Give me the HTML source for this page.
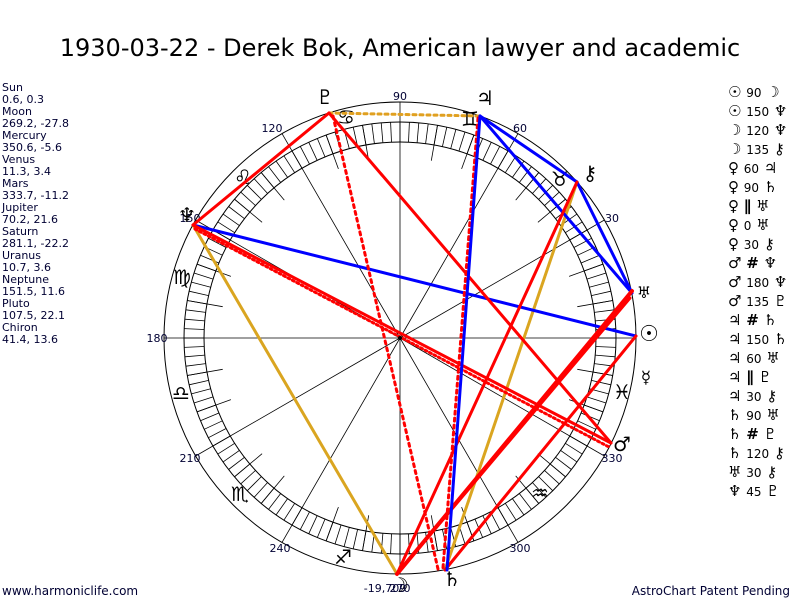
<!DOCTYPE html>
<html><head><meta charset="utf-8"><style>
body{margin:0;background:#fff;width:800px;height:600px;overflow:hidden;font-family:"Liberation Sans","DejaVu Sans",sans-serif}
svg{position:absolute;left:0;top:0}
</style></head><body>
<svg width="800" height="600" viewBox="0 0 800 600" xmlns="http://www.w3.org/2000/svg" font-family="'DejaVu Sans','Liberation Sans',sans-serif">
<text x="400" y="56" font-size="24" text-anchor="middle" fill="#000">1930-03-22 - Derek Bok, American lawyer and academic</text>
<g font-size="11" fill="#000033">
<text x="2" y="91">Sun</text><text x="2" y="103">0.6, 0.3</text>
<text x="2" y="115">Moon</text><text x="2" y="127">269.2, -27.8</text>
<text x="2" y="139">Mercury</text><text x="2" y="151">350.6, -5.6</text>
<text x="2" y="163">Venus</text><text x="2" y="175">11.3, 3.4</text>
<text x="2" y="187">Mars</text><text x="2" y="199">333.7, -11.2</text>
<text x="2" y="211">Jupiter</text><text x="2" y="223">70.2, 21.6</text>
<text x="2" y="235">Saturn</text><text x="2" y="247">281.1, -22.2</text>
<text x="2" y="259">Uranus</text><text x="2" y="271">10.7, 3.6</text>
<text x="2" y="283">Neptune</text><text x="2" y="295">151.5, 11.6</text>
<text x="2" y="307">Pluto</text><text x="2" y="319">107.5, 22.1</text>
<text x="2" y="331">Chiron</text><text x="2" y="343">41.4, 13.6</text>
</g>
<text x="2" y="595" font-size="12" fill="#000033">www.harmoniclife.com</text>
<text x="790" y="595" font-size="12" fill="#000033" text-anchor="end">AstroChart Patent Pending</text>

<g id="wheel" stroke="#000" fill="none" stroke-width="1">
<circle cx="400" cy="338" r="236"/>
<circle cx="400" cy="338" r="216"/>
<circle cx="400" cy="338" r="196"/>
</g>
<g id="ticks" stroke="#000" stroke-width="0.8"></g>

<g font-size="11" fill="#000033" text-anchor="middle">
<text x="400" y="100">90</text><text x="272" y="132">120</text><text x="190" y="222">150</text>
<text x="157" y="342">180</text><text x="190" y="462">210</text><text x="280" y="552">240</text>
<text x="400" y="592">270</text><text x="520" y="552">300</text><text x="612" y="462">330</text>
<text x="612" y="222">30</text><text x="520" y="132">60</text>
</g>
<g font-size="20" fill="#000" text-anchor="middle">
<text x="470" y="126">♊</text><text x="346" y="124">♋</text><text x="243" y="184">♌</text>
<text x="182" y="284">♍</text><text x="181" y="400">♎</text><text x="240" y="501">♏</text>
<text x="343" y="564">♐</text><text x="540" y="500">♒</text><text x="622" y="399">♓</text>
<text x="560" y="186">♉</text>
</g>

<g stroke-width="3" fill="none" stroke-linecap="round">
<line x1="329" y1="113" x2="480" y2="116" stroke="#e0a020" stroke-dasharray="3,4"/>
<line x1="193" y1="225" x2="397" y2="574" stroke="#daa520"/>
<line x1="577" y1="182" x2="445" y2="570" stroke="#daa520"/>
<line x1="480" y1="116" x2="577" y2="182" stroke="#0000ff"/>
<line x1="480" y1="116" x2="632" y2="293" stroke="#0000ff"/>
<line x1="577" y1="182" x2="632" y2="293" stroke="#0000ff"/>
<line x1="193" y1="225" x2="636" y2="336" stroke="#0000ff"/>
<line x1="329" y1="113" x2="193" y2="225" stroke="#ff0000"/>
<line x1="329" y1="113" x2="611" y2="443" stroke="#ff0000"/>
<line x1="193" y1="225" x2="611" y2="443" stroke="#ff0000"/>
<line x1="195" y1="229" x2="609" y2="447" stroke="#ff0000" stroke-dasharray="2,3"/>
<line x1="577" y1="182" x2="397" y2="574" stroke="#ff0000"/>
<line x1="632" y1="291" x2="397" y2="574" stroke="#ff0000" stroke-width="4"/>
<line x1="630" y1="298" x2="397" y2="574" stroke="#ff0000"/>
<line x1="636" y1="336" x2="445" y2="570" stroke="#ff0000"/>
<line x1="333" y1="116" x2="438" y2="569" stroke="#ff0000" stroke-dasharray="3,4"/>
<line x1="478" y1="118" x2="443" y2="568" stroke="#ff0000" stroke-dasharray="3,4"/>
<line x1="480" y1="116" x2="447" y2="570" stroke="#0000ff"/>
</g>
<circle cx="400" cy="338" r="2" fill="#000"/>

<g font-size="20" fill="#000" text-anchor="middle">
<text x="325" y="104">♇</text>
<text x="485" y="105">♃</text>
<text x="590" y="180">⚷</text>
<text x="187" y="222">♆</text>
<text x="649" y="341" font-size="22">☉</text>
<text x="646" y="383" font-size="17">☿</text>
<text x="644" y="298" font-size="16">♅</text>
<text x="622" y="451">♂</text>
<text x="400" y="592">☽</text>
<text x="452" y="586">♄</text>
<text x="385" y="592" font-size="11" fill="#000033">-19,709</text>
</g>

<g font-size="15" fill="#000">
<text x="728" y="97">☉ <tspan font-size="12">90</tspan> ☽</text>
<text x="728" y="116">☉ <tspan font-size="12">150</tspan> ♆</text>
<text x="728" y="135">☽ <tspan font-size="12">120</tspan> ♆</text>
<text x="728" y="154">☽ <tspan font-size="12">135</tspan> ⚷</text>
<text x="728" y="173">♀ <tspan font-size="12">60</tspan> ♃</text>
<text x="728" y="192">♀ <tspan font-size="12">90</tspan> ♄</text>
<text x="728" y="211">♀ <tspan font-weight="bold">∥</tspan>   ♅</text>
<text x="728" y="230">♀ <tspan font-size="12">0</tspan> ♅</text>
<text x="728" y="249">♀ <tspan font-size="12">30</tspan> ⚷</text>
<text x="728" y="268">♂ <tspan font-weight="bold">#</tspan>  ♆</text>
<text x="728" y="287">♂ <tspan font-size="12">180</tspan> ♆</text>
<text x="728" y="306">♂ <tspan font-size="12">135</tspan> ♇</text>
<text x="728" y="325">♃ <tspan font-weight="bold">#</tspan>  ♄</text>
<text x="728" y="344">♃ <tspan font-size="12">150</tspan> ♄</text>
<text x="728" y="363">♃ <tspan font-size="12">60</tspan> ♅</text>
<text x="728" y="382">♃ <tspan font-weight="bold">∥</tspan>   ♇</text>
<text x="728" y="401">♃ <tspan font-size="12">30</tspan> ⚷</text>
<text x="728" y="420">♄ <tspan font-size="12">90</tspan> ♅</text>
<text x="728" y="439">♄ <tspan font-weight="bold">#</tspan>  ♇</text>
<text x="728" y="458">♄ <tspan font-size="12">120</tspan> ⚷</text>
<text x="728" y="477">♅ <tspan font-size="12">30</tspan> ⚷</text>
<text x="728" y="496">♆ <tspan font-size="12">45</tspan> ♇</text>
</g>
</svg>
<script>
(function(){
var g=document.getElementById('ticks'),cx=400,cy=338,s='';
function L(a,r1,r2){var t=a*Math.PI/180,c=Math.cos(t),n=Math.sin(t);
s+='<line x1="'+(cx+r1*c).toFixed(1)+'" y1="'+(cy-r1*n).toFixed(1)+'" x2="'+(cx+r2*c).toFixed(1)+'" y2="'+(cy-r2*n).toFixed(1)+'"/>';}
for(var a=0;a<360;a+=2.5){L(a,196,216);}
for(var a=0;a<360;a+=10){if(a%30)L(a,180,216);}
for(var a=0;a<360;a+=30){L(a,0,236);}
g.innerHTML=s;
})();
</script>
</body></html>
